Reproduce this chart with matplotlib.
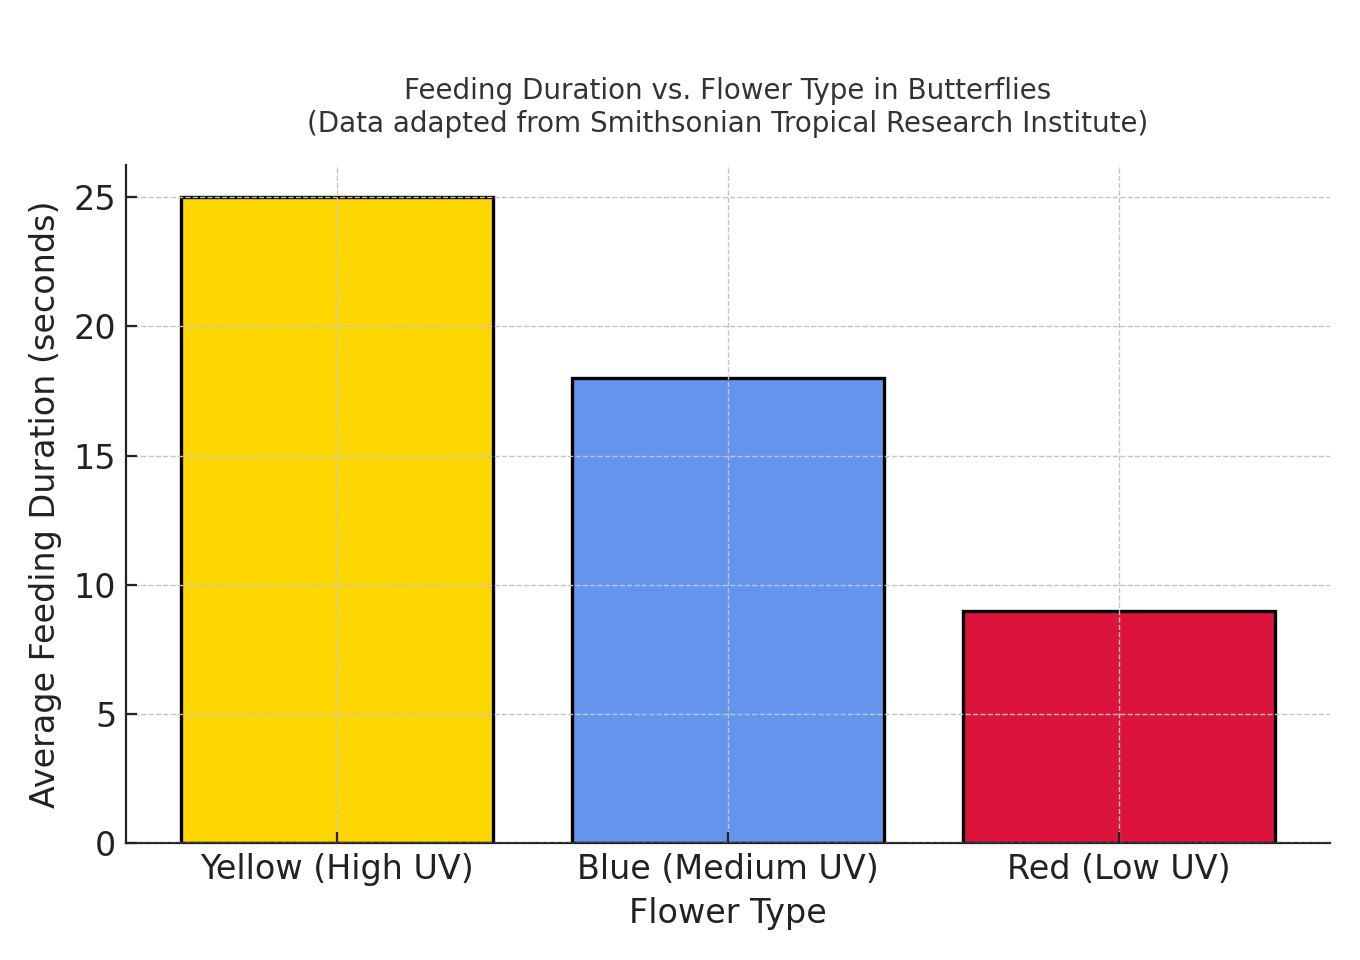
import matplotlib
matplotlib.use('Agg')
import matplotlib.pyplot as plt

flower_types = ['Yellow (High UV)', 'Blue (Medium UV)', 'Red (Low UV)']
feeding_duration = [25, 18, 9]
bar_colors = ['gold', 'cornflowerblue', 'crimson']

fig = plt.figure(figsize=(6.8, 4.8), dpi=200)
ax = fig.add_axes([0.0926, 0.122, 0.8854, 0.706])

ax.bar(flower_types, feeding_duration, color=bar_colors, edgecolor='black', linewidth=1.2, width=0.8)

ax.set_title('Feeding Duration vs. Flower Type in Butterflies\n(Data adapted from Smithsonian Tropical Research Institute)',
             fontsize=10, color='#333333', pad=12)
ax.set_xlabel('Flower Type', fontsize=12, color='#222222', labelpad=4)
ax.set_ylabel('Average Feeding Duration (seconds)', fontsize=12, color='#222222', labelpad=4)

ax.tick_params(axis='both', labelsize=12, colors='#222222', direction='in', length=4, width=0.8)
ax.grid(True, linestyle='--', linewidth=0.5, color='#c4c4c4')
ax.set_axisbelow(False)

ax.spines['top'].set_visible(False)
ax.spines['right'].set_visible(False)
ax.spines['left'].set_color('#222222')
ax.spines['bottom'].set_color('#222222')

fig.savefig('out.png', dpi=200)
